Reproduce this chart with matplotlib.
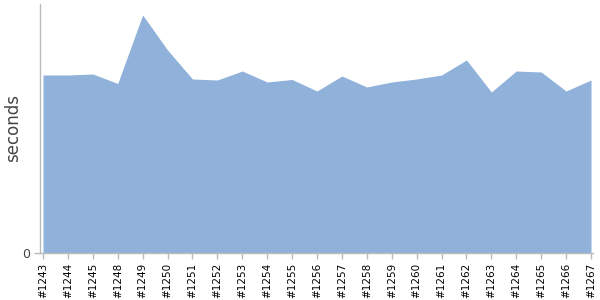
import matplotlib
matplotlib.use("Agg")
import matplotlib.pyplot as plt

builds = ["#1243", "#1244", "#1245", "#1248", "#1249", "#1250", "#1251", "#1252",
          "#1253", "#1254", "#1255", "#1256", "#1257", "#1258", "#1259", "#1260",
          "#1261", "#1262", "#1263", "#1264", "#1265", "#1266", "#1267"]
seconds = [178, 178, 179, 169.5, 238, 203, 174, 173,
           182, 171, 173.5, 162, 177, 166, 171, 174,
           178, 193, 161, 182, 181, 162, 173]

fig = plt.figure(figsize=(6, 3), dpi=100)
ax = fig.add_axes([40/600, 1-253/300, 553/600, 249/300])

x = list(range(len(builds)))
ax.fill_between(x, seconds, 0, color="#8fb1da", linewidth=0)
ax.set_xlim(-0.12, len(builds) - 1 + 0.08)
ax.set_ylim(0, 249)

ax.set_xticks(x)
ax.set_xticklabels(builds, rotation=90, fontsize=7.5, color="black")
ax.set_yticks([0])
ax.set_yticklabels(["0"], fontsize=9, color="#444444")
fig.text(13/600, 1-128/300, "seconds", rotation=90, fontsize=12,
         color="#444444", ha="center", va="center")

for s in ["top", "right"]:
    ax.spines[s].set_visible(False)
for s in ["left", "bottom"]:
    ax.spines[s].set_color("#bbbbbb")
    ax.spines[s].set_linewidth(1)
ax.tick_params(axis="x", colors="#bbbbbb", length=4, width=1, labelcolor="black", pad=3)
ax.tick_params(axis="y", colors="#bbbbbb", length=4, width=1, labelcolor="#444444", pad=3)

fig.savefig("out.png", dpi=100)
